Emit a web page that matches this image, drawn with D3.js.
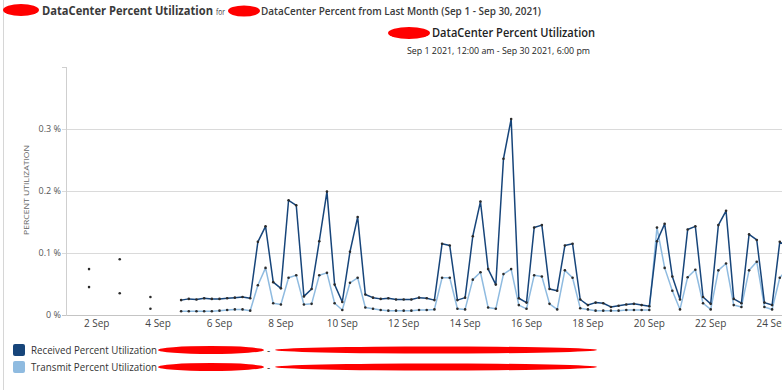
<!DOCTYPE html>
<meta charset="utf-8">
<script src="https://cdn.jsdelivr.net/npm/d3@7"></script>
<style>
  body { margin: 0; background: #fff; }
  text { font-family: "Open Sans", "Liberation Sans", sans-serif; }
</style>
<div id="js_chart"></div>
<script>
// ******************************************
// data (percent, one sample every 6 hours from Sep 1 18:00, null = no sample)
// ******************************************
const firstSample = "2021-09-01T18:00:00Z";
const stepHours = 6;

const receivedValues = [
  0.074, null, null, null, 0.090, null, null, null, 0.029, null, null, null,
  0.024, 0.026, 0.025, 0.027, 0.026, 0.026, 0.027, 0.028, 0.029, 0.027,
  0.118, 0.143, 0.053, 0.043, 0.185, 0.177, 0.030, 0.042, 0.119, 0.199,
  0.049, 0.021, 0.102, 0.158, 0.033, 0.028, 0.026, 0.027, 0.025, 0.025,
  0.025, 0.028, 0.027, 0.024, 0.115, 0.112, 0.024, 0.028, 0.127, 0.183,
  0.074, 0.049, 0.252, 0.316, 0.027, 0.020, 0.141, 0.145, 0.042, 0.039,
  0.112, 0.115, 0.025, 0.016, 0.020, 0.019, 0.013, 0.015, 0.017, 0.018,
  0.016, 0.014, 0.119, 0.147, 0.062, 0.025, 0.138, 0.143, 0.029, 0.018,
  0.145, 0.168, 0.026, 0.019, 0.130, 0.121, 0.020, 0.016, 0.118, 0.110
];

const transmitValues = [
  0.045, null, null, null, 0.035, null, null, null, 0.010, null, null, null,
  0.006, 0.006, 0.006, 0.006, 0.006, 0.007, 0.008, 0.009, 0.009, 0.007,
  0.048, 0.076, 0.019, 0.017, 0.060, 0.064, 0.017, 0.018, 0.064, 0.068,
  0.019, 0.008, 0.052, 0.060, 0.012, 0.010, 0.008, 0.007, 0.007, 0.007,
  0.007, 0.008, 0.008, 0.009, 0.060, 0.060, 0.010, 0.009, 0.057, 0.069,
  0.012, 0.010, 0.066, 0.074, 0.016, 0.010, 0.064, 0.062, 0.018, 0.009,
  0.072, 0.060, 0.011, 0.009, 0.007, 0.007, 0.007, 0.007, 0.008, 0.008,
  0.008, 0.008, 0.141, 0.076, 0.039, 0.009, 0.061, 0.073, 0.019, 0.009,
  0.072, 0.083, 0.016, 0.013, 0.072, 0.086, 0.013, 0.009, 0.060, 0.075
];

const seriesNames = ["Received Percent Utilization", "Transmit Percent Utilization"];
const seriesColors = ["#17457a", "#8fbbe0"];

const yTicks = [0, 0.1, 0.2, 0.3];
const yTickLabels = ["0 %", "0.1 %", "0.2 %", "0.3 %"];
const xTickDays = [2, 4, 6, 8, 10, 12, 14, 16, 18, 20, 22, 24];

// ******************************************
// settings
// ******************************************
let width = 782, height = 390;
let plot = {left: 66, top: 67, bottom: 315};
const dayPx = 30.7;

let x = d3.scaleUtc()
    .domain([new Date("2021-09-01T00:00:00Z"), new Date("2021-09-30T18:00:00Z")])
    .range([plot.left, plot.left + 29.75 * dayPx]);

let y = d3.scaleLinear()
    .domain([0, 0.4])
    .range([plot.bottom, plot.top]);

let t0 = new Date(firstSample);
function timeAt(i) { return d3.utcHour.offset(t0, i * stepHours); }

let svg = d3.select("#js_chart")
    .append("svg")
    .attr("width", width)
    .attr("height", height);

// frame line on the left
svg.append("line")
    .attr("x1", 3.5).attr("x2", 3.5).attr("y1", 0).attr("y2", height)
    .attr("stroke", "#d6d6d6");

// ******************************************
// titles
// ******************************************
function redMark(cx, cy, rx, ry) {
    svg.append("ellipse")
        .attr("cx", cx).attr("cy", cy).attr("rx", rx).attr("ry", ry)
        .attr("fill", "#f00");
}

function label(txt, x0, yb, size, weight, len, color) {
    return svg.append("text")
        .attr("x", x0).attr("y", yb)
        .attr("font-size", size)
        .attr("font-weight", weight)
        .attr("fill", color || "#333")
        .attr("textLength", len)
        .attr("lengthAdjust", "spacingAndGlyphs")
        .text(txt);
}

redMark(21, 10, 18, 6);
redMark(244, 11, 16, 5.5);
label("DataCenter Percent Utilization", 42, 15, 12.5, 700, 171, "#3a3a3a");
label("for", 216, 15, 9, 400, 9, "#3a3a3a");
label("DataCenter Percent from Last Month (Sep 1 - Sep 30, 2021)", 261, 15, 10.5, 600, 280, "#3a3a3a");

redMark(409, 33, 21, 6);
label("DataCenter Percent Utilization", 432, 37, 12, 600, 163, "#222");
label("Sep 1 2021, 12:00 am - Sep 30 2021, 6:00 pm", 407, 54, 9, 400, 183, "#222");

// ******************************************
// axes and grid
// ******************************************
svg.append("g")
    .selectAll("line")
    .data(yTicks)
    .enter()
        .append("line")
        .attr("x1", plot.left - 4)
        .attr("x2", width)
        .attr("y1", d => Math.round(y(d)) + 0.5)
        .attr("y2", d => Math.round(y(d)) + 0.5)
        .attr("stroke", (d, i) => i === 0 ? "#c4c4c4" : "#dadada");

svg.append("line")
    .attr("x1", plot.left - 4).attr("x2", plot.left)
    .attr("y1", plot.top + 0.5).attr("y2", plot.top + 0.5)
    .attr("stroke", "#cfcfcf");

svg.append("line")
    .attr("x1", plot.left + 0.5).attr("x2", plot.left + 0.5)
    .attr("y1", plot.top).attr("y2", plot.bottom + 1)
    .attr("stroke", "#cfcfcf");

svg.append("g")
    .selectAll("text")
    .data(yTicks)
    .enter()
        .append("text")
        .attr("x", plot.left - 5)
        .attr("y", d => y(d) + 3)
        .attr("text-anchor", "end")
        .attr("font-size", 9)
        .attr("fill", "#555")
        .text((d, i) => yTickLabels[i]);

svg.append("text")
    .attr("transform", "translate(29,190) rotate(-90)")
    .attr("text-anchor", "middle")
    .attr("font-size", 8)
    .attr("fill", "#666")
    .attr("textLength", 90)
    .attr("lengthAdjust", "spacingAndGlyphs")
    .text("PERCENT UTILIZATION");

svg.append("g")
    .selectAll("text")
    .data(xTickDays.map(d => new Date(Date.UTC(2021, 8, d))))
    .enter()
        .append("text")
        .attr("x", d => x(d))
        .attr("y", plot.bottom + 12)
        .attr("text-anchor", "middle")
        .attr("font-size", 10)
        .attr("fill", "#444")
        .text(d3.utcFormat("%-d %b"));

// ******************************************
// series
// ******************************************
const allSeries = [receivedValues, transmitValues];

let line = d3.line()
    .defined(d => d != null)
    .x((d, i) => x(timeAt(i)))
    .y(d => y(d));

let g = svg.append("g").attr("id", "g_plot");

[1, 0].forEach(function (s) {
    g.append("path")
        .datum(allSeries[s])
        .attr("d", line)
        .attr("fill", "none")
        .attr("stroke", seriesColors[s])
        .attr("stroke-width", 1.5)
        .attr("stroke-linejoin", "round");
});

allSeries.forEach(function (vals) {
    g.append("g")
        .selectAll("circle")
        .data(vals.map((v, i) => ({v: v, t: timeAt(i)})).filter(d => d.v != null))
        .enter()
            .append("circle")
            .attr("cx", d => x(d.t))
            .attr("cy", d => y(d.v))
            .attr("r", 1.3)
            .attr("fill", "#2b2b2b");
});

// ******************************************
// legend
// ******************************************
seriesNames.forEach(function (name, i) {
    let ly = 344 + i * 17;
    svg.append("rect")
        .attr("x", 13).attr("y", ly)
        .attr("width", 12).attr("height", 12)
        .attr("rx", 2)
        .attr("fill", seriesColors[i]);
    label(name, 31, ly + 10, 10.5, 400, 126, "#333");
    svg.append("text")
        .attr("x", 267).attr("y", ly + 10)
        .attr("font-size", 10)
        .attr("fill", "#333")
        .text("-");
    redMark(211, ly + 6, 53, 4);
    redMark(436, ly + 6, 161, 3.5);
});
</script>
